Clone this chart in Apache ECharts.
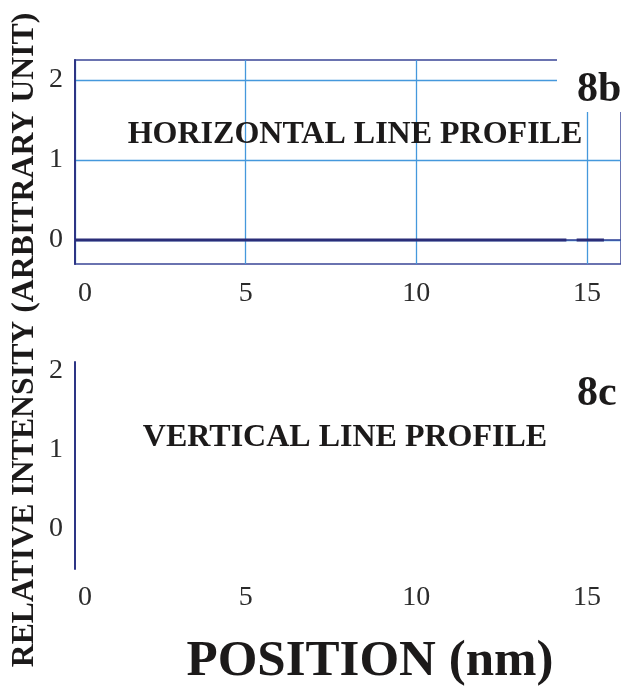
<!DOCTYPE html>
<html>
<head>
<meta charset="utf-8">
<script src="https://cdn.jsdelivr.net/npm/echarts@6/dist/echarts.min.js"></script>
<style>
  html, body { margin: 0; padding: 0; background: #fff; }
  #chart { width: 621px; height: 686px; }
</style>
</head>
<body>
<div id="chart"></div>
<script>
// Horizontal line profile (panel 8b): position in nm and relative intensity
const hPositions = [0, 14.4, 14.55, 14.7, 15.5];
const hIntensity = [0, 0, '-', 0, 0];

// Vertical line profile (panel 8c): no trace recorded
const vPositions = [];
const vIntensity = [];

// Tick values
const xTicks = [0, 5, 10, 15];
const yTicks = [0, 1, 2];

const serif = '"Liberation Serif", "DejaVu Serif", serif';
const tickColor = '#2b2b2b';
const gridBlue = '#4598dc';
const frameBlue = '#3a4596';
const axisNavy = '#2d3585';

const chart = echarts.init(document.getElementById('chart'), null, { renderer: 'canvas' });

function pairs(xs, ys) {
  return xs.map((x, i) => [x, ys[i]]);
}

function xAxisFor(gridIndex, showLine, margin) {
  return {
    type: 'value', gridIndex, min: 0, max: 16,
    axisLine: { show: showLine, lineStyle: { color: frameBlue, width: 1.5 } },
    axisTick: { show: false, customValues: xTicks },
    splitLine: { show: showLine, lineStyle: { color: gridBlue, width: 1.3 } },
    axisLabel: {
      customValues: xTicks, margin,
      fontFamily: serif, fontSize: 28, color: tickColor,
      formatter: v => (v === 0 ? '{z|0}' : String(v)),
      rich: { z: { padding: [0, 0, 0, 20], fontFamily: serif, fontSize: 28, color: tickColor } }
    }
  };
}

function yAxisFor(gridIndex, min, max, showGrid) {
  return {
    type: 'value', gridIndex, min, max,
    axisLine: { show: true, lineStyle: { color: axisNavy, width: 2 } },
    axisTick: { show: false, customValues: yTicks },
    splitLine: { show: showGrid, lineStyle: { color: gridBlue, width: 1.3 } },
    axisLabel: {
      customValues: yTicks, margin: 12, padding: [15, 0, 0, 0],
      fontFamily: serif, fontSize: 28, color: tickColor
    }
  };
}

const option = {
  animation: false,
  backgroundColor: '#ffffff',
  grid: [
    { left: 75, top: 60, width: 552, height: 204, show: true,
      borderColor: frameBlue, borderWidth: 1.5, backgroundColor: 'transparent' },
    { left: 75, top: 362, width: 552, height: 207 }
  ],
  xAxis: [xAxisFor(0, true, 16), xAxisFor(1, false, 15)],
  yAxis: [yAxisFor(0, -0.3, 2.25, true), yAxisFor(1, -0.52, 2.115, false)],
  series: [
    {
      name: 'Horizontal line profile', type: 'line', xAxisIndex: 0, yAxisIndex: 0,
      data: pairs(hPositions, hIntensity), showSymbol: false, connectNulls: false,
      lineStyle: { color: '#2a2d78', width: 3 }, z: 5
    },
    {
      name: 'Vertical line profile', type: 'line', xAxisIndex: 1, yAxisIndex: 1,
      data: pairs(vPositions, vIntensity), showSymbol: false,
      lineStyle: { color: '#2a2d78', width: 3 }
    }
  ],
  graphic: [
    { type: 'rect', z: 100, shape: { x: 557, y: 50, width: 70, height: 62 }, style: { fill: '#ffffff' } },
    { type: 'text', z: 101, x: 577, y: 90,
      style: { text: '8b', fontFamily: serif, fontWeight: 'bold', fontSize: 42, fill: '#1c1a1a', align: 'left', verticalAlign: 'middle' } },
    { type: 'text', z: 101, x: 577, y: 394,
      style: { text: '8c', fontFamily: serif, fontWeight: 'bold', fontSize: 42, fill: '#1c1a1a', align: 'left', verticalAlign: 'middle' } },
    { type: 'text', z: 101, x: 355, y: 135,
      style: { text: 'HORIZONTAL LINE PROFILE', fontFamily: serif, fontWeight: 'bold', fontSize: 32, fill: '#1c1a1a', align: 'center', verticalAlign: 'middle' } },
    { type: 'text', z: 101, x: 345, y: 438,
      style: { text: 'VERTICAL LINE PROFILE', fontFamily: serif, fontWeight: 'bold', fontSize: 32, fill: '#1c1a1a', align: 'center', verticalAlign: 'middle' } },
    { type: 'text', z: 101, x: 370, y: 662,
      style: { text: 'POSITION (nm)', fontFamily: serif, fontWeight: 'bold', fontSize: 51, fill: '#1c1a1a', align: 'center', verticalAlign: 'middle' } },
    { type: 'text', z: 101, x: 25, y: 340, rotation: Math.PI / 2,
      style: { text: 'RELATIVE INTENSITY (ARBITRARY UNIT)', fontFamily: serif, fontWeight: 'bold', fontSize: 31.8, fill: '#1c1a1a', align: 'center', verticalAlign: 'middle' } }
  ]
};

chart.setOption(option);
</script>
</body>
</html>
